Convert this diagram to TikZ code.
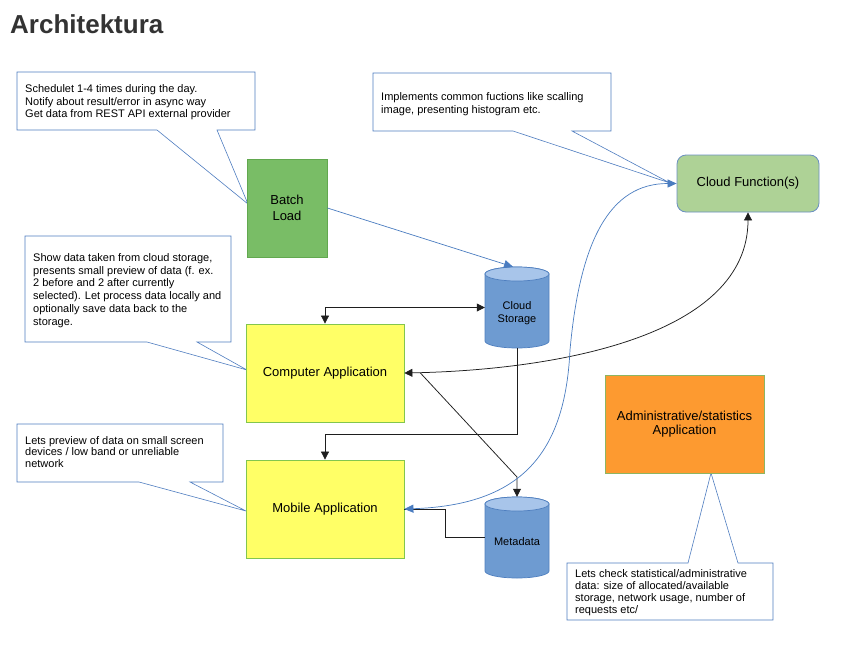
\documentclass[tikz,border=0pt]{standalone}
\usepackage{fontspec}
\setmainfont{Liberation Sans}
\usetikzlibrary{arrows.meta}
\definecolor{titlegray}{HTML}{333333}
\definecolor{notecol}{HTML}{4F7DC0}
\definecolor{bluearr}{HTML}{4A7CC0}
\definecolor{linek}{HTML}{1E1E1E}
\definecolor{batchfill}{HTML}{79BD66}
\definecolor{batchline}{HTML}{62A84F}
\definecolor{cffill}{HTML}{AED296}
\definecolor{cfline}{HTML}{6A8FC2}
\definecolor{yel}{HTML}{FFFF66}
\definecolor{yelline}{HTML}{82C64E}
\definecolor{orng}{HTML}{FD9A30}
\definecolor{orngline}{HTML}{8DB562}
\definecolor{cylbody}{HTML}{6E9BD1}
\definecolor{cyltop}{HTML}{A8C5EA}
\definecolor{cylline}{HTML}{4F7FBF}
\begin{document}
\begin{tikzpicture}[x=1pt,y=-1pt,
  noteshape/.style={draw=notecol, fill=white, line width=0.6pt, line join=miter},
  notetext/.style={anchor=north west, inner sep=0pt, align=left, text=black},
  box/.style={draw, line width=0.8pt, align=center, inner sep=0pt, text=black,
    font=\fontsize{13}{15.3}\selectfont},
  cylshape/.style={draw=cylline, fill=cylbody, line width=0.7pt},
  cyltopshape/.style={draw=cylline, fill=cyltop, line width=0.7pt},
  cylgeom/.style={inner sep=0pt, minimum width=64pt, minimum height=81pt},
  cyltext/.style={align=center, inner sep=0pt, text=black, font=\fontsize{11}{13}\selectfont},
  blk/.style={draw=linek, line width=0.75pt},
  blu/.style={draw=bluearr, line width=0.7pt},
  tipk/.style={-{Triangle[length=8pt,width=8pt]}},
  tipkk/.style={{Triangle[length=8pt,width=8pt]}-{Triangle[length=8pt,width=8pt]}},
  tipbb/.style={{Triangle[length=9pt,width=8pt]}-{Triangle[length=9pt,width=8pt]}},
  tipb/.style={-{Triangle[length=9pt,width=8pt]}}
]
\useasboundingbox (0,0) rectangle (860,648);

% title
\node[anchor=base west, inner sep=0pt, text=titlegray,
  font=\fontsize{26}{30}\selectfont\bfseries] (title) at (10,33) {Architektura};

% callout outlines
\path[noteshape] (17,72) -- (255,72) -- (255,130) -- (217,130) -- (248,204) -- (157,130) -- (17,130) -- cycle;
\path[noteshape] (373,73) -- (611,73) -- (611,131) -- (572,131) -- (670,183) -- (513,131) -- (373,131) -- cycle;
\path[noteshape] (25,236) -- (231,236) -- (231,342) -- (197,342) -- (247,370) -- (147,342) -- (25,342) -- cycle;
\path[noteshape] (17,424) -- (223,424) -- (223,482) -- (190,482) -- (246,511) -- (139,482) -- (17,482) -- cycle;
\path[noteshape] (567,563) -- (688,563) -- (711,473) -- (738,563) -- (773,563) -- (773,620) -- (567,620) -- cycle;

% callout texts
\node[notetext, font=\fontsize{11}{12.9}\selectfont] (note1) at (25,84)
  {Schedulet 1-4 times during the day.\\Notify about result/error in async way\\Get data from REST API external provider};
\node[notetext, font=\fontsize{11}{13.4}\selectfont] (note2) at (381,92)
  {Implements common fuctions like scalling\\image, presenting histogram etc.};
\node[notetext, font=\fontsize{11}{12.9}\selectfont] (note3) at (33,253)
  {Show data taken from cloud storage,\\presents small preview of data (f. ex.\\2 before and 2 after currently\\selected). Let process data locally and\\optionally save data back to the\\storage.};
\node[notetext, font=\fontsize{11}{11.8}\selectfont] (note4) at (25,436)
  {Lets preview of data on small screen\\devices / low band or unreliable\\network};
\node[notetext, font=\fontsize{11}{12}\selectfont] (note5) at (575,569)
  {Lets check statistical/administrative\\data: size of allocated/available\\storage, network usage, number of\\requests etc/};

% main boxes
\node[box, fill=batchfill, draw=batchline, minimum width=80pt, minimum height=98pt] (batch) at (287,208) {Batch\\Load};
\node[box, fill=cffill, draw=cfline, rounded corners=9pt, minimum width=142pt, minimum height=57pt] (cf) at (748,183.5) {Cloud Function(s)};
\node[box, fill=yel, draw=yelline, minimum width=158pt, minimum height=98pt] (comp) at (325,373) {Computer Application};
\node[box, fill=yel, draw=yelline, minimum width=158pt, minimum height=98pt] (mobile) at (325,509) {Mobile Application};
\node[box, fill=orng, draw=orngline, minimum width=159pt, minimum height=98pt,
  font=\fontsize{13}{14.5}\selectfont] (admin) at (684.5,424) {Administrative/statistics\\Application};

% cylinders
\path[cylshape] (485,274) -- (485,341) arc[start angle=180, end angle=0, x radius=32, y radius=7]
  -- (549,274) arc[start angle=0, end angle=-180, x radius=32, y radius=7] -- cycle;
\path[cyltopshape] (517,274) ellipse [x radius=32, y radius=7];
\node[cylgeom] (cs) at (517,307.5) {};
\node[cyltext] (cslabel) at (517,313) {Cloud\\Storage};

\path[cylshape] (485,504) -- (485,571) arc[start angle=180, end angle=0, x radius=32, y radius=7]
  -- (549,504) arc[start angle=0, end angle=-180, x radius=32, y radius=7] -- cycle;
\path[cyltopshape] (517,504) ellipse [x radius=32, y radius=7];
\node[cylgeom] (meta) at (517,537.5) {};
\node[cyltext] (metalabel) at (517,542) {Metadata};

% connectors
\draw[blu, tipb] (batch.east) -- ([xshift=-4pt]cs.north);
\draw[blk, tipkk] (cs.west) -| (comp.north);
\coordinate (csbend) at (517,434);
\draw[blk, tipk] (cs.south) -- (csbend) -| (mobile.north);
\coordinate (metabend) at (517,477);
\draw[blk, tipk] ([xshift=16pt]comp.east) -- (metabend) -- (meta.north);
\coordinate (mbend) at (445,537.5);
\draw[blk] (meta.west) -- (mbend) |- (mobile.east);
\draw[blk, tipkk] (comp.east) .. controls (560,370) and (748,335) .. (cf.south);
\coordinate (bluemid) at (570,350);
\draw[blu, tipbb] (mobile.east) .. controls (520,505) and (565,455) .. (bluemid)
  .. controls (580,240) and (610,183.5) .. (cf.west);
\end{tikzpicture}
\end{document}
